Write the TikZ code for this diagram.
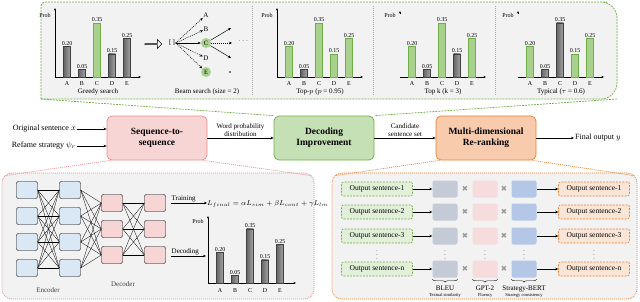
\documentclass[tikz,border=0pt]{standalone}
\usepackage{amsmath}
\usepackage{fontspec}
\setmainfont{Liberation Serif}
\newfontfamily\symfont{DejaVu Sans}
\usepackage{tikz}
\usetikzlibrary{positioning, shapes, arrows.meta, calc, decorations.pathreplacing}

\definecolor{grnline}{HTML}{70AD47}
\definecolor{grnfill}{HTML}{C5E0B4}
\definecolor{grnbar}{HTML}{A9D18E}
\definecolor{grnsoft}{HTML}{E2F0D9}
\definecolor{pnkline}{HTML}{F08A8A}
\definecolor{pnkfill}{HTML}{F8D5D5}
\definecolor{orgline}{HTML}{ED7D31}
\definecolor{orgfill}{HTML}{F8CBAD}
\definecolor{orgsoft}{HTML}{FBE5D6}
\definecolor{panelbg}{HTML}{F2F2F2}
\definecolor{encfill}{HTML}{DAE8F5}
\definecolor{bleufill}{HTML}{C4CAD6}
\definecolor{gptfill}{HTML}{F6DCDC}
\definecolor{bertfill}{HTML}{B4C7E7}

\begin{document}
\begin{tikzpicture}[x=1pt, y=-1pt,
    mainbox/.style={draw, rounded corners=5pt, line width=0.7pt, minimum width=100pt, minimum height=44pt, align=center, font=\fontsize{9.5}{11}\selectfont\bfseries},
    panel/.style={fill=panelbg, rounded corners=10pt, line width=0.7pt, dash pattern=on 1pt off 1pt},
    cell/.style={draw, rounded corners=2pt, line width=0.4pt, minimum width=21pt, minimum height=17pt, inner sep=0pt},
    sentbox/.style={draw, rounded corners=2pt, line width=0.6pt, dash pattern=on 2pt off 1.2pt, minimum width=71pt, minimum height=14pt, inner sep=1pt, font=\fontsize{7.5}{8}\selectfont},
    scorebox/.style={rounded corners=2pt, minimum width=25pt, minimum height=17pt, inner sep=0pt},
    mult/.style={text=black!40, inner sep=0pt, font=\symfont\fontsize{7.5}{7.5}\selectfont},
    lbl/.style={font=\fontsize{8}{9}\selectfont, inner sep=1pt},
    small/.style={font=\fontsize{7}{8}\selectfont, inner sep=0.5pt, align=center},
    vallabel/.style={font=\fontsize{6}{7}\selectfont, inner sep=0.5pt},
    tinylabel/.style={font=\fontsize{4.5}{5}\selectfont, inner sep=0.5pt},
    vdotlabel/.style={font=\fontsize{5.5}{6}\selectfont, inner sep=0pt},
    arr/.style={-{Stealth[length=3pt,width=2.6pt]}, line width=0.5pt},
    axis/.style={-{Stealth[length=2.6pt,width=2.2pt]}, line width=0.5pt},
    link/.style={line width=0.3pt},
    greenbar/.style={draw=grnline, fill=grnbar, line width=0.4pt},
    graybar/.style={draw=black!75, left color=black!60, right color=black!35, line width=0.4pt},
    beamc/.style={circle, fill=grnbar, minimum size=10pt, inner sep=0pt, font=\fontsize{6.5}{7}\selectfont},
    sepline/.style={black!35, line width=0.4pt, dash pattern=on 1pt off 1pt},
    brace/.style={decorate, decoration={brace, mirror, amplitude=3pt}, line width=0.4pt}]
\useasboundingbox (0,0) rectangle (640,301);

% decoding panel on top
\draw[grnline, fill=panelbg, line width=0.7pt, dash pattern=on 2pt off 1pt] (41,99) -- (41,6) [rounded corners=4pt] -- (41,2) -- (603,2) [rounded corners=16pt] -- (617,2) -- (617,99) [sharp corners] -- cycle;
\coordinate (topL) at (41,99);
\coordinate (topR) at (617,99);
\foreach \x in {252,373,495}
  \draw[sepline] (\x,6) -- (\x,96);

% bar charts
\foreach \ax/\ca/\cb/\cc/\cd/\ce/\full/\ttl in {55/0/0/1/0/0/1/{Greedy search}, 277/1/0/1/1/1/1/{Top-$p$ ($p$ = 0.95)}, 400/1/0/1/0/1/0/{Top k  (k = 3)}, 518/1/0/0/1/1/0/{Typical ($\tau$ = 0.6)}} {
  \ifnum\full=1
    \draw[axis] (\ax,77) -- (\ax,8);
  \else
    \draw[axis] (\ax,14) -- (\ax,11);
  \fi
  \draw[axis] (\ax,77) -- (\ax+86,77);
  \node[vallabel] (prob\ax) at (\ax-10,15) {Prob};
  \foreach \j/\v/\c/\l in {0/0.20/\ca/A, 1/0.05/\cb/B, 2/0.35/\cc/C, 3/0.15/\cd/D, 4/0.25/\ce/E} {
    \ifnum\c=1
      \draw[greenbar] (\ax+12+15*\j-3.5,77) rectangle ++(7,-155*\v);
    \else
      \draw[graybar] (\ax+12+15*\j-3.5,77) rectangle ++(7,-155*\v);
    \fi
    \node[vallabel, above] (v\ax-\j) at (\ax+12+15*\j,77-155*\v) {\v};
    \node[vallabel] (l\ax-\j) at (\ax+12+15*\j,84) {\l};
  }
  \node[small] (ttl\ax) at (\ax+43,92) {\ttl};
}

% beam search
\node[single arrow, draw, fill=white, line width=0.5pt, minimum height=17pt, minimum width=9pt, single arrow head extend=2pt, inner sep=0pt] (hollow) at (153,44) {};
\node[small] (beam) at (172,43) {[\,]};
\foreach \l/\y in {A/15, B/29, D/58}
  \node[small] (b\l) at (206,\y) {\l};
\node[beamc] (bC) at (206,43) {C};
\node[beamc] (bE) at (206,72) {E};
\foreach \l in {A,B,D,E}
  \draw[arr, dash pattern=on 1pt off 1pt] (beam.east) -- (b\l);
\draw[arr] (beam.east) -- (bC);
\coordinate (cup) at (231,28);
\coordinate (cmid) at (232,43);
\coordinate (cdown) at (231,58);
\draw[arr] (bC) -- (cup);
\draw[arr] (bC) -- (cdown);
\draw[arr, dash pattern=on 1pt off 1pt] (bC) -- (cmid);
\node[small] (more) at (244,41) {$\cdots$};
\fill (230,72) circle (0.9pt);
\node[small] (beamttl) at (207,92) {Beam search  (size = 2)};

% main pipeline
\node[mainbox, draw=pnkline, fill=pnkfill] (seq) at (157,138) {Sequence-to-\\sequence};
\node[mainbox, draw=grnline, fill=grnfill] (dec) at (324,138) {Decoding\\Improvement};
\node[mainbox, draw=orgline, fill=orgfill] (rerank) at (486,138) {Multi-dimensional\\Re-ranking};
\node[lbl, anchor=east] (orig) at (77,129) {Original sentence $x$};
\node[lbl, anchor=east] (strat) at (77,146) {Refame strategy $\psi_r$};
\node[lbl, anchor=west] (final) at (574,138) {Final output $y$};
\draw[arr] (orig.east) -- (orig.east -| seq.west);
\draw[arr] (strat.east) -- (strat.east -| seq.west);
\draw[arr] (seq) -- (dec) node[small, midway, above=1pt] {Word probability\\distribution};
\draw[arr] (dec) -- (rerank) node[small, midway, above=1pt] {Candidate\\sentence set};
\draw[arr] (rerank) -- (final);
\draw[grnline, line width=0.7pt, dash pattern=on 2pt off 1pt] (topL) -- (dec.north west);
\draw[grnline, line width=0.7pt, dash pattern=on 2pt off 1pt] (topR) -- (dec.north east);

% sequence-to-sequence panel
\node[panel, draw=pnkline, minimum width=312pt, minimum height=126pt] (seqpanel) at (158,236) {};
\draw[pnkline, line width=0.7pt, dash pattern=on 1pt off 1pt] ([xshift=4pt]seq.south west) -- ([xshift=3pt,yshift=-3pt]seqpanel.north west);
\draw[pnkline, line width=0.7pt, dash pattern=on 1pt off 1pt] ([xshift=-4pt]seq.south east) -- ([xshift=-3pt,yshift=-3pt]seqpanel.north east);
\foreach \i in {1,...,4} {
  \node[cell, fill=encfill] (ea\i) at (27,164+26*\i) {};
  \node[cell, fill=encfill] (eb\i) at (70,164+26*\i) {};
}
\foreach \i in {1,2,3} {
  \node[cell, fill=pnkfill] (da\i) at (112,177+26*\i) {};
  \node[cell, fill=pnkfill] (db\i) at (155,177+26*\i) {};
}
\foreach \i in {1,...,4}
  \foreach \j in {1,...,4}
    \draw[link] (ea\i.east) -- (eb\j.west);
\foreach \i in {1,...,4}
  \foreach \j in {1,2,3}
    \draw[link] (eb\i.east) -- (da\j.west);
\foreach \i in {1,2,3}
  \foreach \j in {1,2,3}
    \draw[link] (da\i.east) -- (db\j.west);
\node[small, text=black!75] (enclabel) at (48,290) {Encoder};
\node[small, text=black!75] (declabel) at (123,284) {Decoder};

\node[anchor=west, inner sep=0pt, font=\fontsize{7.5}{8}\selectfont] (formula) at (207,204) {$L_{final}=\alpha L_{sim}+\beta L_{cont}+\gamma L_{lm}$};
\node[small, anchor=south west] (train) at (171,203) {Training};
\draw[arr] (train.south west) -- (train.south west -| formula.west);
\node[small, anchor=south west] (decode) at (171,256) {Decoding};
\coordinate (probaxis) at (206,256);
\draw[arr] (decode.south west) -- (probaxis);

\coordinate (o) at (208,283);
\draw[axis] (o) -- (208,216);
\draw[axis] (o) -- (296,283);
\node[vallabel] (probs) at (198,221) {Prob};
\foreach \j/\v/\l in {0/0.20/A, 1/0.05/B, 2/0.35/C, 3/0.15/D, 4/0.25/E} {
  \draw[graybar] (216.5+15*\j,283) rectangle ++(7,-155*\v);
  \node[vallabel, above] (sv\j) at (220+15*\j,283-155*\v) {\v};
  \node[vallabel] (sl\j) at (220+15*\j,291) {\l};
}

% re-ranking panel
\node[panel, draw=orgline, minimum width=305pt, minimum height=126pt] (rrpanel) at (484.5,236) {};
\draw[orgline, line width=0.7pt, dash pattern=on 1pt off 1pt] ([xshift=4pt]rerank.south west) -- ([xshift=3pt,yshift=-3pt]rrpanel.north west);
\draw[orgline, line width=0.7pt, dash pattern=on 1pt off 1pt] ([xshift=-4pt]rerank.south east) -- ([xshift=-3pt,yshift=-3pt]rrpanel.north east);
\foreach \i/\y/\n in {1/189/1, 2/212/2, 3/236/3, 4/269/n} {
  \node[sentbox, draw=grnline, fill=grnsoft] (src\i) at (377,\y) {Output sentence-\n};
  \node[scorebox, fill=bleufill] (bleu\i) at (445,\y) {};
  \node[mult] (mxa\i) at (465,\y) {✖};
  \node[scorebox, fill=gptfill] (gpt\i) at (485,\y) {};
  \node[mult] (mxb\i) at (504,\y) {✖};
  \node[scorebox, fill=bertfill] (bert\i) at (524,\y) {};
  \node[sentbox, draw=orgline, fill=orgsoft] (out\i) at (594,\y) {Output sentence-\n};
  \draw[arr] (src\i) -- (bleu\i);
  \draw[arr] (bert\i) -- (out\i);
}
\foreach \x in {377,445,485,524,594}
  \node[vdotlabel] (dots\x) at (\x,252) {$\vdots$};
\foreach \b/\top/\sub in {bleu/BLEU/Textual similarity, gpt/GPT-2/Fluency, bert/Strategy-BERT/Strategy consistency} {
  \draw[brace] ([yshift=-1.5pt]\b4.south west) -- ([yshift=-1.5pt]\b4.south east);
  \node[vallabel, font=\fontsize{7}{8}\selectfont] (\b name) at ([yshift=-11pt]\b4.south) {\top};
  \node[tinylabel] (\b sub) at ([yshift=-18pt]\b4.south) {\sub};
}
\end{tikzpicture}
\end{document}
